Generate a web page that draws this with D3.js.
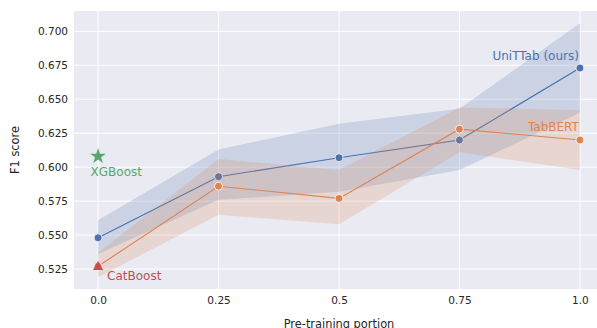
<!DOCTYPE html>
<html>
<head>
<meta charset="utf-8">
<script src="https://cdn.jsdelivr.net/npm/d3@7"></script>
<style>
  body { margin: 0; background: #fff; }
  svg { display: block; font-family: "DejaVu Sans", sans-serif; }
</style>
</head>
<body>
<div id="chart"></div>
<script>
// pre-training portion on the x axis
var portions = [0, 0.25, 0.5, 0.75, 1.0];
var xTickLabels = ["0.0", "0.25", "0.5", "0.75", "1.0"];
var yTicks = [0.525, 0.55, 0.575, 0.6, 0.625, 0.65, 0.675, 0.7];

// UniTTab (ours): mean F1 and confidence band
var unittabMean = [0.548, 0.593, 0.607, 0.620, 0.673];
var unittabLow = [0.536, 0.576, 0.582, 0.598, 0.640];
var unittabHigh = [0.561, 0.613, 0.632, 0.643, 0.706];

// TabBERT
var tabbertMean = [0.527, 0.586, 0.577, 0.628, 0.620];
var tabbertLow = [0.519, 0.565, 0.558, 0.611, 0.598];
var tabbertHigh = [0.537, 0.606, 0.598, 0.644, 0.642];

// baselines without pre-training
var baselineNames = ["XGBoost", "CatBoost"];
var baselineScores = [0.608, 0.5265];

var width = 597, height = 328;
var margin = {top: 11, left: 74, right: -7, bottom: 39};

var x = d3.scaleLinear()
        .domain([-0.05, 1.05])
        .range([margin.left, width - margin.right]);
var y = d3.scaleLinear()
        .domain([0.5103, 0.7150])
        .range([height - margin.bottom, margin.top]);

var svg = d3.select('#chart').append('svg')
        .attr('width', width)
        .attr('height', height);

// darkgrid background
svg.append('rect')
        .attr('x', x.range()[0])
        .attr('y', y.range()[1])
        .attr('width', x.range()[1] - x.range()[0])
        .attr('height', y.range()[0] - y.range()[1])
        .attr('fill', '#eaeaf2');

var grid = svg.append('g').attr('stroke', '#fff').attr('stroke-width', 1);
grid.selectAll('.gx').data(portions).enter().append('line')
        .attr('x1', function (d) { return x(d); })
        .attr('x2', function (d) { return x(d); })
        .attr('y1', y.range()[0]).attr('y2', y.range()[1]);
grid.selectAll('.gy').data(yTicks).enter().append('line')
        .attr('y1', function (d) { return y(d); })
        .attr('y2', function (d) { return y(d); })
        .attr('x1', x.range()[0]).attr('x2', x.range()[1]);

// axes (no domain line, no tick marks, like seaborn)
var xAxis = d3.axisBottom(x)
        .tickValues(portions)
        .tickFormat(function (d, i) { return xTickLabels[i]; })
        .tickSize(0).tickPadding(8);
svg.append('g')
        .attr('transform', 'translate(0,' + y.range()[0] + ')')
        .call(xAxis)
        .call(function (g) { g.select('.domain').remove(); });

var yAxis = d3.axisLeft(y)
        .tickValues(yTicks)
        .tickFormat(d3.format('.3f'))
        .tickSize(0).tickPadding(6);
svg.append('g')
        .attr('transform', 'translate(' + x.range()[0] + ',0)')
        .call(yAxis)
        .call(function (g) { g.select('.domain').remove(); });

svg.selectAll('.tick text')
        .attr('fill', '#262626')
        .attr('font-size', '10.5px')
        .attr('font-family', '"DejaVu Sans", sans-serif');

// axis titles
svg.append('text')
        .attr('x', (x.range()[0] + x.range()[1]) / 2)
        .attr('y', 327.5)
        .attr('text-anchor', 'middle')
        .attr('font-size', '11.4px')
        .attr('fill', '#262626')
        .text('Pre-training portion');
svg.append('text')
        .attr('transform', 'translate(18.5,' + ((y.range()[0] + y.range()[1]) / 2) + ') rotate(-90)')
        .attr('text-anchor', 'middle')
        .attr('font-size', '11.4px')
        .attr('fill', '#262626')
        .text('F1 score');

var series = [
    {name: 'UniTTab (ours)', color: '#4c72b0', mean: unittabMean, low: unittabLow, high: unittabHigh},
    {name: 'TabBERT', color: '#dd8452', mean: tabbertMean, low: tabbertLow, high: tabbertHigh}
];

var area = d3.area()
        .x(function (d) { return x(d.x); })
        .y0(function (d) { return y(d.lo); })
        .y1(function (d) { return y(d.hi); });
var line = d3.line()
        .x(function (d) { return x(d.x); })
        .y(function (d) { return y(d.m); });

series.forEach(function (s) {
    var pts = portions.map(function (p, i) {
        return {x: p, m: s.mean[i], lo: s.low[i], hi: s.high[i]};
    });
    var g = svg.append('g');
    g.append('path')
            .datum(pts)
            .attr('d', area)
            .attr('fill', s.color)
            .attr('fill-opacity', 0.2);
    g.append('path')
            .datum(pts)
            .attr('d', line)
            .attr('fill', 'none')
            .attr('stroke', s.color)
            .attr('stroke-width', 1.1);
    g.selectAll('circle').data(pts).enter().append('circle')
            .attr('cx', function (d) { return x(d.x); })
            .attr('cy', function (d) { return y(d.m); })
            .attr('r', 4)
            .attr('fill', s.color)
            .attr('stroke', '#fff')
            .attr('stroke-width', 0.8);
});

// series labels next to the last point
var last = portions.length - 1;
svg.append('text')
        .attr('x', x(portions[last]) - 1)
        .attr('y', y(unittabMean[last]) - 8)
        .attr('text-anchor', 'end')
        .attr('font-size', '12px')
        .attr('fill', '#4c72b0')
        .text('UniTTab (ours)');
svg.append('text')
        .attr('x', x(portions[last]) - 1)
        .attr('y', y(tabbertMean[last]) - 9)
        .attr('text-anchor', 'end')
        .attr('font-size', '12px')
        .attr('fill', '#dd8452')
        .text('TabBERT');

// baselines: star for XGBoost, triangle for CatBoost
var baselineColors = ['#55a868', '#c44e52'];
var baselineSymbols = [d3.symbol().type(d3.symbolStar).size(76), d3.symbol().type(d3.symbolTriangle).size(46)];
baselineScores.forEach(function (v, i) {
    svg.append('path')
            .attr('transform', 'translate(' + x(0) + ',' + y(v) + ')')
            .attr('d', baselineSymbols[i]())
            .attr('fill', baselineColors[i]);
});
svg.append('text')
        .attr('x', x(0) - 7.5)
        .attr('y', y(baselineScores[0]) + 20)
        .attr('font-size', '12px')
        .attr('fill', baselineColors[0])
        .text(baselineNames[0]);
svg.append('text')
        .attr('x', x(0) + 9)
        .attr('y', y(baselineScores[1]) + 13)
        .attr('font-size', '12px')
        .attr('fill', baselineColors[1])
        .text(baselineNames[1]);
</script>
</body>
</html>
